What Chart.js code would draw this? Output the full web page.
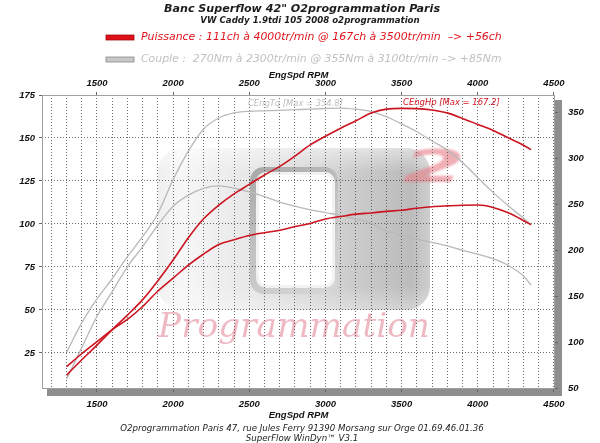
<!DOCTYPE html>
<html>
<head>
<meta charset="utf-8">
<script src="https://cdn.jsdelivr.net/npm/chart.js@4.4.1/dist/chart.umd.min.js"></script>
<style>
  html, body { margin: 0; padding: 0; background: #fff; }
  #wrap { width: 600px; height: 443px; }
</style>
</head>
<body>
<div id="wrap"><canvas id="chart" width="600" height="443"></canvas></div>
<script>
// regime moteur (tr/min)
var rpm = [1300,1400,1500,1600,1700,1800,1900,2000,2100,2200,2300,2400,2500,2600,2700,2800,
           2900,3000,3100,3200,3300,3400,3500,3600,3700,3800,3900,4000,4100,4200,4300,4350];
// puissance (ch) - apres / avant reprog
var puissanceApres = [12,21,29.5,38.5,47,56,67,79,92,103,111,117.5,123,128.5,133.5,139.5,
                      146,151,155.7,160,164.5,166.8,167.2,167.1,166.3,164.6,161.4,157.9,154.4,150.1,145.8,143.2];
var puissanceAvant = [17,24.5,31.5,38.5,44.5,52,61,68.5,76,82.5,88,90.8,93.3,94.9,96.3,98.5,
                      100.3,102.9,104.3,105.7,106.4,107.3,108,109.1,110,110.5,110.9,111,109.6,106.5,102,99.5];
// couple (Nm) - apres / avant reprog
var coupleApres = [89,121,147,169,193,215,240,277,308,332,344,349.5,351.3,351.8,352.3,353,
                   353.7,354.3,354.8,353.5,351,345.5,337.5,329,319,309,295.5,279,263,248.5,235,228];
var coupleAvant = [60,94,128,155,182,204,227.5,248,260,267.5,270,267.5,263.5,258.5,252.5,248,
                   244,241,238,234,229.5,221,216.5,212.2,208.5,204.7,200,195.7,190.8,183.5,172,162];

var rpmLabels = [1500,2000,2500,3000,3500,4000,4500];
var chTicks = [25,50,75,100,125,150,175];
var nmTicks = [50,100,150,200,250,300,350];

var RED = '#cc1420';
var GREY = '#b9b9b9';
var tickFont = { family: 'Liberation Sans', size: 9.5, style: 'italic', weight: 'bold' };

function pts(arr) {
  return rpm.map(function (r, i) { return { x: r, y: arr[i] }; });
}

function fitText(ctx, text, x, y, w, style, family, color, align) {
  ctx.font = style + ' 20px ' + family;
  var size = 20 * w / ctx.measureText(text).width;
  ctx.font = style + ' ' + size.toFixed(2) + 'px ' + family;
  ctx.fillStyle = color;
  ctx.textAlign = align || 'center';
  ctx.textBaseline = 'middle';
  ctx.fillText(text, x, y);
  return size;
}

function roundRect(ctx, x, y, w, h, r) {
  ctx.beginPath();
  ctx.moveTo(x + r, y);
  ctx.arcTo(x + w, y, x + w, y + h, r);
  ctx.arcTo(x + w, y + h, x, y + h, r);
  ctx.arcTo(x, y + h, x, y, r);
  ctx.arcTo(x, y, x + w, y, r);
  ctx.closePath();
}

// fond, ombre du cadre et filigrane O2
var backdrop = {
  id: 'backdrop',
  beforeDraw: function (chart) {
    var ctx = chart.ctx, a = chart.chartArea;
    ctx.save();
    ctx.fillStyle = '#fff';
    ctx.fillRect(0, 0, chart.width, chart.height);
    ctx.fillStyle = '#8e8e8e';
    ctx.fillRect(a.left + 5, a.top + 5, a.right - a.left + 2, a.bottom - a.top + 2);
    ctx.fillStyle = '#fff';
    ctx.fillRect(a.left, a.top, a.right - a.left, a.bottom - a.top);

    // gros bloc gris
    var g = ctx.createLinearGradient(158, 0, 430, 0);
    g.addColorStop(0, '#ececec');
    g.addColorStop(0.08, '#f6f6f6');
    g.addColorStop(0.35, '#e2e2e2');
    g.addColorStop(0.7, '#c4c4c4');
    g.addColorStop(0.93, '#b0b0b0');
    g.addColorStop(1, '#c6c6c6');
    roundRect(ctx, 158, 148, 272, 162, 24);
    ctx.fillStyle = g;
    ctx.globalAlpha = 0.85;
    ctx.fill();
    var gv = ctx.createLinearGradient(0, 148, 0, 310);
    gv.addColorStop(0, 'rgba(255,255,255,0.6)');
    gv.addColorStop(0.15, 'rgba(255,255,255,0)');
    gv.addColorStop(0.85, 'rgba(255,255,255,0)');
    gv.addColorStop(1, 'rgba(255,255,255,0.4)');
    ctx.fillStyle = gv;
    ctx.fill();
    ctx.globalAlpha = 1;

    // fenetre interieure
    var gf = ctx.createLinearGradient(250, 167, 340, 295);
    gf.addColorStop(0, '#a8a8a8');
    gf.addColorStop(0.5, '#c4c4c4');
    gf.addColorStop(1, '#d8d8d8');
    roundRect(ctx, 250, 167, 88, 127, 14);
    ctx.fillStyle = gf;
    ctx.fill();
    roundRect(ctx, 256, 172, 79, 116, 10);
    ctx.fillStyle = '#f2f2f2';
    ctx.fill();
    roundRect(ctx, 259, 175, 73, 110, 8);
    ctx.fillStyle = '#ffffff';
    ctx.fill();

    // "2" rose, ecrase
    ctx.save();
    ctx.filter = 'blur(1.2px)';
    ctx.translate(434, 182);
    ctx.scale(1.45, 0.72);
    ctx.font = 'bold italic 62px "DejaVu Sans"';
    ctx.fillStyle = 'rgba(232,130,142,0.65)';
    ctx.textAlign = 'center';
    ctx.textBaseline = 'alphabetic';
    ctx.fillText('2', 0, 0);
    ctx.restore();

    // "Programmation"
    ctx.globalAlpha = 0.55;
    fitText(ctx, 'Programmation', 294, 328, 272, 'italic', '"DejaVu Serif"', '#e07f90', 'center');
    ctx.globalAlpha = 1;
    ctx.restore();
  },
  beforeDatasetsDraw: function (chart) {
    var ctx = chart.ctx, a = chart.chartArea;
    ctx.save();
    ctx.strokeStyle = '#a0a0a0';
    ctx.lineWidth = 1;
    ctx.strokeRect(a.left + 0.5, a.top + 0.5, a.right - a.left - 1, a.bottom - a.top - 1);
    ctx.restore();
  },
  afterDatasetsDraw: function (chart) {
    var ctx = chart.ctx;
    ctx.save();
    fitText(ctx, 'CEngTq [Max = 354.8]', 248, 104, 95, 'italic', '"DejaVu Sans"', '#bdbdbd', 'left');
    fitText(ctx, 'CEngHp [Max = 167.2]', 403, 103, 97, 'italic', '"DejaVu Sans"', '#d0141e', 'left');
    ctx.restore();
  },
  afterDraw: function (chart) {
    var ctx = chart.ctx;
    ctx.save();
    fitText(ctx, 'Banc Superflow 42" O2programmation Paris', 302, 9, 276, 'italic bold', '"DejaVu Sans"', '#1c1c1c');
    fitText(ctx, 'VW Caddy 1.9tdi 105 2008 o2programmation', 310, 20.5, 220, 'italic bold', '"DejaVu Sans"', '#1c1c1c');

    // legende
    ctx.fillStyle = '#e01018';
    ctx.fillRect(106, 35, 28, 5);
    ctx.strokeStyle = '#a00c12';
    ctx.lineWidth = 0.8;
    ctx.strokeRect(106, 35, 28, 5);
    fitText(ctx, 'Puissance : 111ch à 4000tr/min @ 167ch à 3500tr/min  \u2013> +56ch', 141, 37.5, 361,
            'italic', '"DejaVu Sans"', '#e0141c', 'left');
    ctx.fillStyle = '#c8c8c8';
    ctx.fillRect(106, 57, 28, 5);
    ctx.strokeStyle = '#8a8a8a';
    ctx.strokeRect(106, 57, 28, 5);
    fitText(ctx, 'Couple :  270Nm à 2300tr/min @ 355Nm à 3100tr/min \u2013> +85Nm', 141, 59.5, 361,
            'italic', '"DejaVu Sans"', '#c0c0c0', 'left');

    // pied de page
    var s = fitText(ctx, 'O2programmation Paris 47, rue Jules Ferry 91390 Morsang sur Orge 01.69.46.01.36',
                    302, 429, 364, 'italic', '"DejaVu Sans"', '#222');
    ctx.font = 'italic ' + s.toFixed(2) + 'px "DejaVu Sans"';
    ctx.fillText('SuperFlow WinDyn\u2122 V3.1', 302, 439);
    ctx.restore();
  }
};

function gridTicks() {
  var t = [];
  for (var v = 1200; v <= 4500; v += 100) t.push({ value: v });
  return t;
}
function rpmLabel(v) { return rpmLabels.indexOf(v) >= 0 ? String(v) : ''; }
function majorTick(c) { return c.tick && rpmLabels.indexOf(c.tick.value) >= 0 ? '#666' : 'rgba(0,0,0,0)'; }

var ctx = document.getElementById('chart').getContext('2d');
var chart = new Chart(ctx, {
  type: 'line',
  data: {
    datasets: [
      { label: 'CEngHp', data: pts(puissanceApres), yAxisID: 'y', borderColor: RED, borderWidth: 1.6 },
      { label: 'CEngHp serie', data: pts(puissanceAvant), yAxisID: 'y', borderColor: RED, borderWidth: 1.6 },
      { label: 'CEngTq', data: pts(coupleApres), yAxisID: 'y2', borderColor: GREY, borderWidth: 1.3 },
      { label: 'CEngTq serie', data: pts(coupleAvant), yAxisID: 'y2', borderColor: GREY, borderWidth: 1.3 }
    ]
  },
  options: {
    responsive: false,
    animation: false,
    layout: { padding: { top: 68, bottom: 22, left: 0, right: 0 } },
    elements: {
      point: { radius: 0 },
      line: { cubicInterpolationMode: 'monotone', fill: false }
    },
    plugins: { legend: { display: false }, tooltip: { enabled: false } },
    scales: {
      x: {
        type: 'linear', position: 'bottom', min: 1139, max: 4507,
        afterBuildTicks: function (s) { s.ticks = gridTicks(); },
        afterFit: function (s) { s.height = 32; },
        ticks: { autoSkip: false, maxRotation: 0, padding: 7, color: '#111', font: tickFont, callback: rpmLabel },
        grid: { color: 'rgba(70,70,70,0.8)', lineWidth: 1, tickLength: 3, tickColor: majorTick },
        border: { display: false, dash: [1, 2] },
        title: { display: true, text: 'EngSpd RPM', color: '#111', font: tickFont, padding: { top: 0, bottom: 0 } }
      },
      x2: {
        type: 'linear', position: 'top', min: 1139, max: 4507,
        afterBuildTicks: function (s) { s.ticks = gridTicks(); },
        afterFit: function (s) { s.height = 27; },
        ticks: { autoSkip: false, maxRotation: 0, padding: 3, color: '#111', font: tickFont, callback: rpmLabel },
        grid: { drawOnChartArea: false, tickLength: 3, color: majorTick },
        border: { display: false },
        title: { display: true, text: 'EngSpd RPM', color: '#111', font: tickFont, padding: { top: 2, bottom: 0 } }
      },
      y: {
        type: 'linear', position: 'left', min: 4, max: 175,
        afterBuildTicks: function (s) { s.ticks = chTicks.map(function (v) { return { value: v }; }); },
        afterFit: function (s) { s.width = 42; },
        ticks: { padding: 4, color: '#111', font: tickFont },
        grid: { color: 'rgba(70,70,70,0.8)', lineWidth: 1, tickLength: 3, tickColor: '#666' },
        border: { display: false, dash: [1, 2] }
      },
      y2: {
        type: 'linear', position: 'right', min: 49, max: 369,
        afterBuildTicks: function (s) { s.ticks = nmTicks.map(function (v) { return { value: v }; }); },
        afterFit: function (s) { s.width = 45; },
        ticks: { padding: 10, color: '#111', font: tickFont },
        grid: { drawOnChartArea: false, tickLength: 3, color: '#666' },
        border: { display: false }
      }
    }
  },
  plugins: [backdrop]
});
</script>
</body>
</html>
